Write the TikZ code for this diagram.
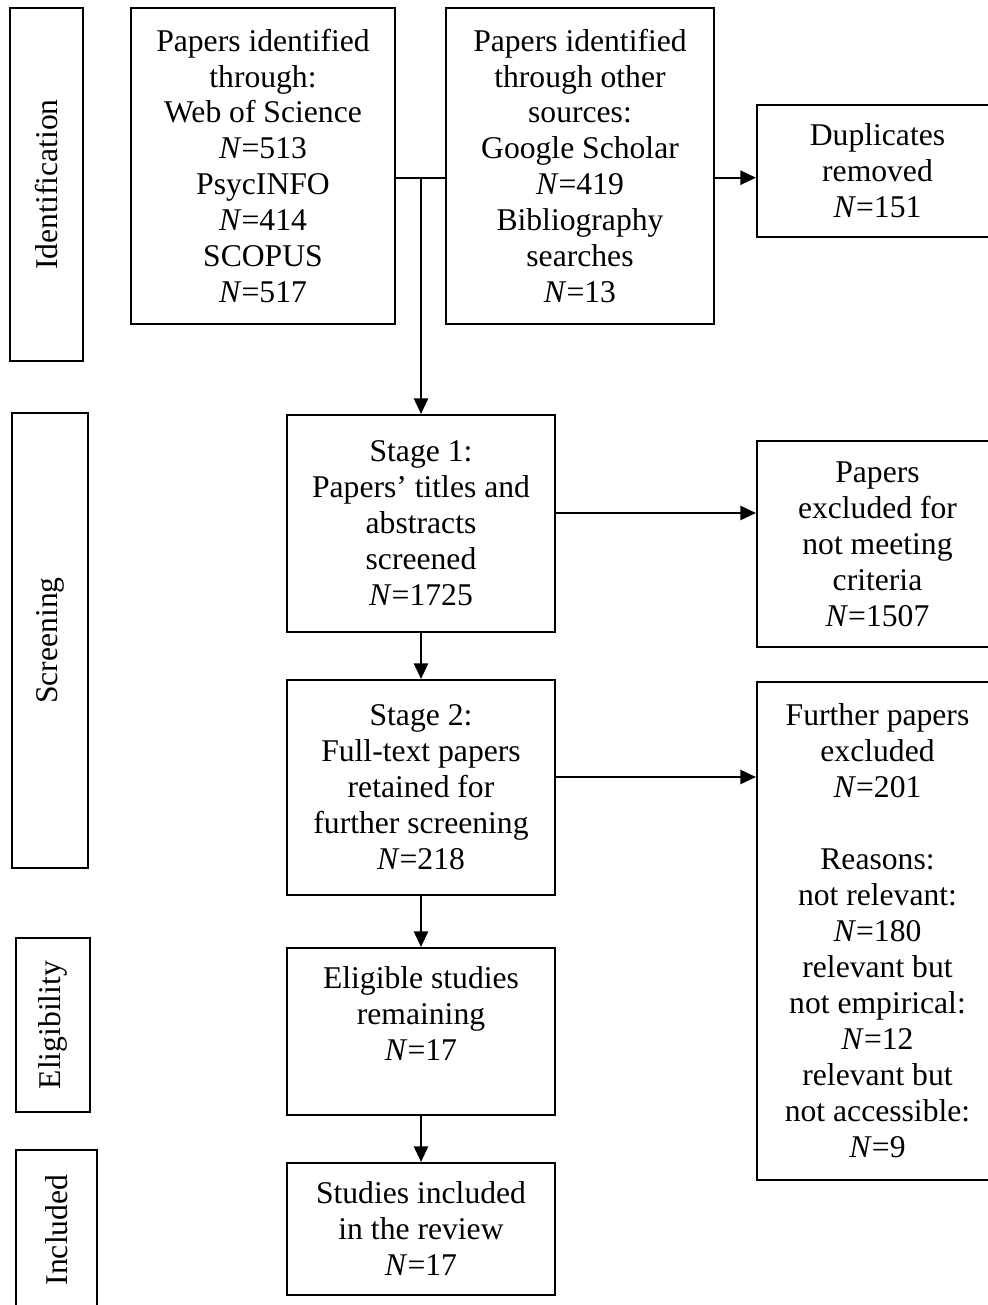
\documentclass[tikz,border=0pt]{standalone}
\usepackage{fontspec}
\setmainfont{Liberation Serif}
\usetikzlibrary{arrows.meta}

\tikzset{
  box/.style={draw,line width=0.6pt,inner sep=0pt,align=center,
    font=\fontsize{9}{10.24}\selectfont},
  phase/.style={box,rotate=90},
  arr/.style={line width=0.6pt,-{Triangle[length=4.4pt,width=4pt]}}
}

\begin{document}
\begin{tikzpicture}
\useasboundingbox (0,0) rectangle (9.87,-13.05);

% phase labels
\node[phase,minimum width=3.53cm,minimum height=0.73cm](idlab) at (0.465,-1.845) {Identification};
\node[phase,minimum width=4.55cm,minimum height=0.76cm](scrlab) at (0.50,-6.405) {Screening};
\node[phase,minimum width=1.74cm,minimum height=0.74cm](elglab) at (0.53,-10.25) {Eligibility};
\node[phase,minimum width=1.60cm,minimum height=0.81cm](inclab) at (0.565,-12.30) {Included};

% identification
\node[box,minimum width=2.64cm,minimum height=3.16cm](db) at (2.63,-1.66)
  {Papers identified\\through:\\Web of Science\\\textit{N}=513\\PsycINFO\\\textit{N}=414\\SCOPUS\\\textit{N}=517};
\node[box,minimum width=2.68cm,minimum height=3.16cm](other) at (5.80,-1.66)
  {Papers identified\\through other\\sources:\\Google Scholar\\\textit{N}=419\\Bibliography\\searches\\\textit{N}=13};
\node[box,minimum width=2.41cm,minimum height=1.32cm](dup) at (8.775,-1.71)
  {Duplicates\\removed\\\textit{N}=151};

% screening
\node[box,minimum width=2.68cm,minimum height=2.17cm](st1) at (4.21,-5.235)
  {Stage 1:\\Papers’ titles and\\abstracts\\screened\\\textit{N}=1725};
\node[box,minimum width=2.41cm,minimum height=2.06cm](ex1) at (8.775,-5.44)
  {Papers\\excluded for\\not meeting\\criteria\\\textit{N}=1507};
\node[box,minimum width=2.68cm,minimum height=2.15cm](st2) at (4.21,-7.875)
  {Stage 2:\\Full-text papers\\retained for\\further screening\\\textit{N}=218};
\node[box,minimum width=2.41cm,minimum height=4.98cm](ex2) at (8.775,-9.31)
  {Further papers\\excluded\\\textit{N}=201\\~\\Reasons:\\not relevant:\\\textit{N}=180\\relevant but\\not empirical:\\\textit{N}=12\\relevant but\\not accessible:\\\textit{N}=9};

% eligibility and included
\node[box,minimum width=2.68cm,minimum height=1.67cm](elg) at (4.21,-10.315)
  {Eligible studies\\remaining\\\textit{N}=17\\~};
\node[box,minimum width=2.68cm,minimum height=1.32cm](inc) at (4.21,-12.29)
  {Studies included\\in the review\\\textit{N}=17};

\coordinate(j) at (4.21,-1.777);
\coordinate(k1) at (4.21,-5.13);
\coordinate(k2) at (4.21,-7.77);

\draw[line width=0.6pt] (db.east |- j) -- (other.west |- j);
\draw[arr] (other.east |- j) -- (dup.west |- j);
\draw[arr] (j) -- (st1.north);
\draw[arr] (st1.east |- k1) -- (ex1.west |- k1);
\draw[arr] (st1) -- (st2);
\draw[arr] (st2.east |- k2) -- (ex2.west |- k2);
\draw[arr] (st2) -- (elg);
\draw[arr] (elg) -- (inc);

\end{tikzpicture}
\end{document}
